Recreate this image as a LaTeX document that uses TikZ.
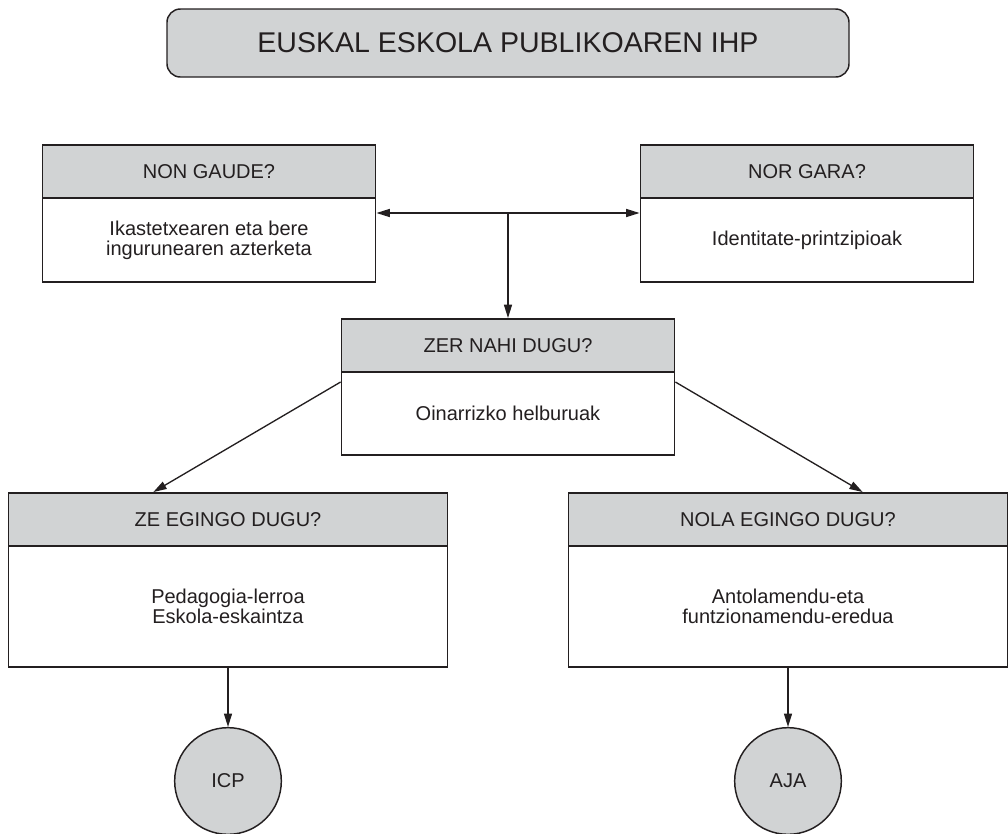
\documentclass[tikz,border=0pt]{standalone}
\usepackage{fontspec}
\setmainfont{Liberation Sans}
\usepackage{xcolor}
\usetikzlibrary{arrows.meta}
\definecolor{boxgray}{HTML}{D1D3D4}
\definecolor{inkblack}{HTML}{231F20}
\tikzset{
    titlebox/.style = {rectangle, rounded corners=10pt, minimum width=511.5pt, minimum height=51pt, text centered, draw=inkblack, fill=boxgray, text=inkblack, line width=1.1pt, font=\fontsize{21.4}{25}\selectfont},
    header/.style = {rectangle, minimum height=39.75pt, text centered, draw=inkblack, fill=boxgray, text=inkblack, line width=1.4pt, font=\fontsize{15}{15}\selectfont},
    content/.style = {rectangle, text centered, align=center, draw=inkblack, fill=white, text=inkblack, line width=1.4pt, font=\fontsize{15}{15}\selectfont},
    result/.style = {circle, minimum size=80pt, inner sep=0pt, draw=inkblack, fill=boxgray, text=inkblack, line width=1.1pt, font=\fontsize{15}{15}\selectfont},
    arrow/.style = {line width=1pt, draw=inkblack, -{Triangle[length=10pt,width=6pt]}}
}
\begin{document}
\begin{tikzpicture}[x=1pt, y=1pt]
\useasboundingbox (0,0) rectangle (756,-624.75);

\node (title) [titlebox] at (381,-32.25) {EUSKAL ESKOLA PUBLIKOAREN IHP};

\node (nonhdr) [header, minimum width=249.75pt] at (156.75,-128.6) {NON GAUDE?};
\node (nonbody) [content, minimum width=249.75pt, minimum height=63pt, node distance=51.4pt, below of=nonhdr] {Ikastetxearen eta bere\\ingurunearen azterketa};
\node (norhdr) [header, minimum width=249.75pt] at (605.25,-128.6) {NOR GARA?};
\node (norbody) [content, minimum width=249.75pt, minimum height=63pt, node distance=51.4pt, below of=norhdr] {Identitate-printzipioak};

\node (zerhdr) [header, minimum width=249.75pt] at (381,-259.1) {ZER NAHI DUGU?};
\node (zerbody) [content, minimum width=249.75pt, minimum height=62.25pt, node distance=51pt, below of=zerhdr] {Oinarrizko helburuak};

\node (zehdr) [header, minimum width=329.25pt] at (171,-389.6) {ZE EGINGO DUGU?};
\node (zebody) [content, minimum width=329.25pt, minimum height=90.75pt, node distance=65.25pt, below of=zehdr] {Pedagogia-lerroa\\Eskola-eskaintza};
\node (nolahdr) [header, minimum width=329.25pt] at (591,-389.6) {NOLA EGINGO DUGU?};
\node (nolabody) [content, minimum width=329.25pt, minimum height=90.75pt, node distance=65.25pt, below of=nolahdr] {Antolamendu-eta\\funtzionamendu-eredua};

\node (icp) [result, node distance=130.9pt, below of=zebody] {ICP};
\node (aja) [result, node distance=130.9pt, below of=nolabody] {AJA};

\coordinate (hub) at (381,-159.75);

\draw [arrow] (hub) -- (hub -| nonbody.east);
\draw [arrow] (hub) -- (hub -| norbody.west);
\draw [arrow] (hub) -- (zerhdr.north);
\draw [arrow] ([yshift=-8.25pt]zerbody.north west) -- ([xshift=-56pt]zehdr.north);
\draw [arrow] ([yshift=-8.25pt]zerbody.north east) -- ([xshift=56pt]nolahdr.north);
\draw [arrow] (zebody) -- (icp);
\draw [arrow] (nolabody) -- (aja);
\end{tikzpicture}
\end{document}
